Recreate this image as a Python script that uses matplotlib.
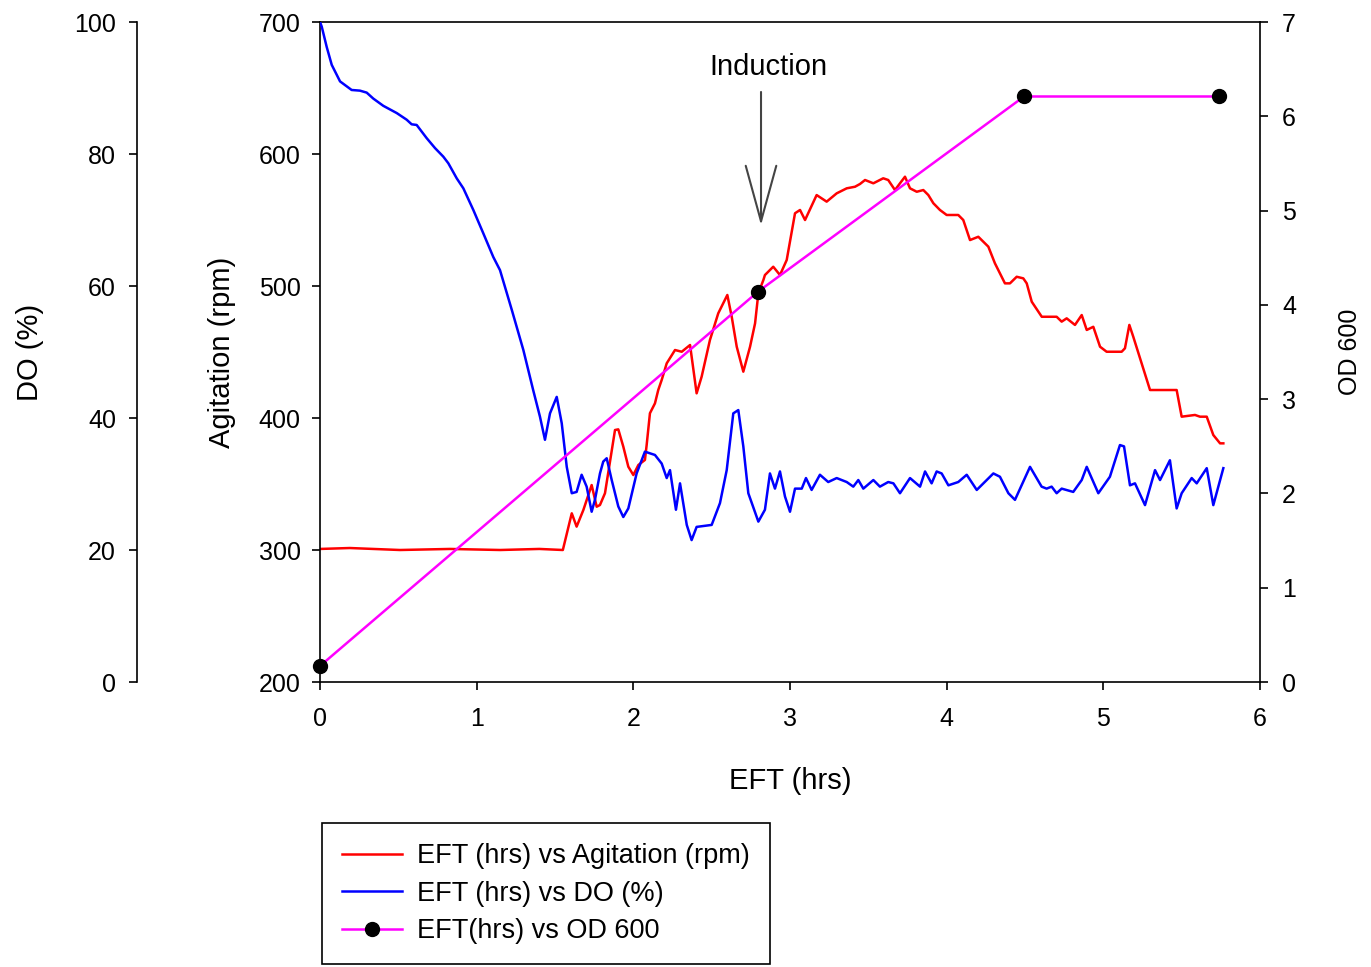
import numpy as np
import matplotlib
matplotlib.use('Agg')
import matplotlib.pyplot as plt

plt.rcParams['font.family'] = ['Liberation Sans', 'DejaVu Sans']

# Agitation (rpm) vs EFT (hrs)
agit_t = [0.0, 0.19, 0.51, 0.83, 1.15, 1.40, 1.55, 1.607, 1.638, 1.681, 1.734, 1.766,
          1.787, 1.819, 1.851, 1.883, 1.904, 1.936, 1.968, 2.0, 2.032, 2.074, 2.085,
          2.106, 2.138, 2.159, 2.181, 2.213, 2.266, 2.309, 2.362, 2.404, 2.436, 2.489,
          2.542, 2.600, 2.628, 2.660, 2.702, 2.745, 2.777, 2.798, 2.830, 2.840, 2.893,
          2.936, 2.979, 3.032, 3.064, 3.096, 3.170, 3.234, 3.298, 3.362, 3.415, 3.447,
          3.479, 3.532, 3.595, 3.627, 3.670, 3.702, 3.734, 3.766, 3.809, 3.851, 3.883,
          3.915, 3.957, 4.0, 4.074, 4.106, 4.149, 4.202, 4.266, 4.308, 4.372, 4.404,
          4.447, 4.489, 4.511, 4.543, 4.607, 4.702, 4.734, 4.766, 4.819, 4.862, 4.894,
          4.936, 4.979, 5.021, 5.117, 5.138, 5.166, 5.191, 5.298, 5.468, 5.500, 5.585,
          5.617, 5.660, 5.702, 5.745, 5.766]
agit_rpm = [300.8, 301.5, 300.0, 300.8, 300.0, 300.8, 300.0, 327.8, 317.7, 330.3, 349.2, 332.8,
            334.1, 343.0, 366.9, 390.9, 391.4, 378.3, 363.1, 356.8, 364.4, 368.2, 379.5,
            403.6, 411.1, 421.2, 428.8, 441.4, 451.5, 450.2, 455.3, 418.7, 431.3, 459.1,
            479.3, 493.2, 476.7, 454.0, 435.1, 454.0, 471.7, 494.5, 504.5, 508.3, 514.6,
            508.3, 519.7, 555.1, 557.6, 550.0, 568.9, 563.9, 570.2, 574.0, 575.2, 577.3,
            580.3, 577.8, 581.6, 580.3, 572.7, 577.8, 582.8, 574.0, 571.4, 572.7, 568.9,
            562.7, 557.6, 553.8, 553.8, 550.0, 534.8, 537.3, 529.8, 517.2, 502.0, 502.0,
            507.0, 505.8, 502.0, 488.1, 476.7, 476.7, 473.0, 475.5, 470.5, 478.0, 466.7,
            469.1, 454.0, 450.2, 450.2, 452.8, 470.5, 461.6, 421.2, 421.2, 401.0, 402.3,
            401.0, 401.0, 387.1, 380.8, 380.8]

# DO (%) vs EFT (hrs)
do_t = [0.0, 0.011, 0.043, 0.075, 0.128, 0.202, 0.255, 0.298, 0.340, 0.404, 0.490, 0.553,
        0.585, 0.617, 0.681, 0.734, 0.787, 0.819, 0.873, 0.915, 0.979, 1.042, 1.106, 1.149,
        1.224, 1.298, 1.361, 1.404, 1.436, 1.468, 1.511, 1.543, 1.575, 1.607, 1.638, 1.670,
        1.702, 1.734, 1.755, 1.787, 1.808, 1.830, 1.862, 1.904, 1.936, 1.968, 2.021, 2.074,
        2.138, 2.181, 2.213, 2.234, 2.272, 2.298, 2.341, 2.372, 2.404, 2.500, 2.553, 2.596,
        2.638, 2.670, 2.702, 2.734, 2.798, 2.840, 2.872, 2.904, 2.936, 2.968, 3.0, 3.032,
        3.075, 3.102, 3.138, 3.191, 3.244, 3.298, 3.362, 3.404, 3.436, 3.468, 3.532, 3.574,
        3.627, 3.660, 3.702, 3.766, 3.830, 3.862, 3.904, 3.936, 3.968, 4.011, 4.074, 4.128,
        4.192, 4.298, 4.340, 4.394, 4.436, 4.532, 4.606, 4.638, 4.670, 4.702, 4.734, 4.808,
        4.862, 4.894, 4.968, 5.042, 5.106, 5.132, 5.170, 5.202, 5.266, 5.330, 5.362, 5.425,
        5.468, 5.500, 5.564, 5.596, 5.660, 5.702, 5.766]
do_pct = [100.0, 99.3, 96.2, 93.5, 91.0, 89.7, 89.6, 89.3, 88.4, 87.3, 86.2, 85.2,
          84.5, 84.4, 82.4, 80.9, 79.6, 78.6, 76.3, 74.8, 71.5, 68.0, 64.4, 62.4,
          56.4, 50.3, 44.2, 40.2, 36.7, 40.7, 43.2, 39.2, 32.6, 28.6, 28.8, 31.4,
          29.6, 25.8, 27.6, 31.6, 33.4, 33.9, 30.6, 26.6, 25.0, 26.3, 31.6, 34.9,
          34.4, 33.1, 30.9, 32.1, 26.1, 30.1, 23.8, 21.5, 23.5, 23.8, 27.1, 32.1,
          40.7, 41.2, 35.7, 28.6, 24.3, 26.1, 31.6, 29.3, 31.9, 28.1, 25.8, 29.3,
          29.3, 30.9, 29.1, 31.4, 30.3, 30.9, 30.3, 29.6, 30.6, 29.3, 30.6, 29.6,
          30.3, 30.1, 28.6, 30.9, 29.6, 31.9, 30.1, 31.9, 31.6, 29.8, 30.3, 31.4,
          29.1, 31.6, 31.1, 28.6, 27.6, 32.6, 29.6, 29.3, 29.6, 28.6, 29.3, 28.8,
          30.6, 32.6, 28.6, 31.1, 35.9, 35.7, 29.8, 30.1, 26.8, 32.1, 30.6, 33.6,
          26.3, 28.6, 30.9, 30.1, 32.4, 26.8, 32.4]

# OD 600 vs EFT (hrs)
od_t = [0.0, 2.796, 4.494, 5.738]
od_val = [0.17, 4.14, 6.21, 6.21]

fig = plt.figure(figsize=(13.71, 9.67), dpi=100)
ax = fig.add_axes([320/1371, 1 - 682/967, 940/1371, 660/967])
ax_do = ax.twinx()
ax_od = ax.twinx()

tick_fs = 18
label_fs = 21

l1, = ax.plot(agit_t, agit_rpm, color='#ff0000', lw=1.8, label='EFT (hrs) vs Agitation (rpm)')
l2, = ax_do.plot(do_t, do_pct, color='#0000ff', lw=1.8, label='EFT (hrs) vs DO (%)')
l3, = ax_od.plot(od_t, od_val, color='#ff00ff', lw=1.8, marker='o', ms=10,
                 mfc='black', mec='black', clip_on=False, label='EFT(hrs) vs OD 600')

ax.set_xlim(0, 6)
ax.set_xticks(range(0, 7))
ax.set_ylim(200, 700)
ax.set_yticks(range(200, 701, 100))
ax_do.set_ylim(0, 100)
ax_do.set_yticks(range(0, 101, 20))
ax_od.set_ylim(0, 7)
ax_od.set_yticks(range(0, 8))

# spines
ax.spines['right'].set_visible(False)
for s in ['top', 'bottom', 'right']:
    ax_do.spines[s].set_visible(False)
ax_do.spines['left'].set_position(('outward', 131.8))
ax_do.yaxis.set_ticks_position('left')
ax_do.yaxis.set_label_position('left')
for s in ['top', 'bottom', 'left']:
    ax_od.spines[s].set_visible(False)
for a in [ax, ax_do, ax_od]:
    for s in a.spines.values():
        s.set_linewidth(1.2)
    a.tick_params(direction='out', length=6, width=1.2, labelsize=tick_fs)
ax.tick_params(axis='x', pad=12)
ax.tick_params(axis='y', pad=8)
ax_do.tick_params(axis='y', pad=9)
ax_od.tick_params(axis='y', pad=10)

ax.set_xlabel('EFT (hrs)', fontsize=label_fs, labelpad=26)
ax.set_ylabel('Agitation (rpm)', fontsize=label_fs, labelpad=16)
ax_do.set_ylabel('DO (%)', fontsize=label_fs, labelpad=22)
ax_od.set_ylabel('OD 600', fontsize=18, rotation=90, labelpad=30)

# induction marker
ax.text(2.86, 666, 'Induction', fontsize=21, ha='center', va='center')
ax.annotate('', xy=(2.815, 546), xytext=(2.815, 647),
            arrowprops=dict(arrowstyle='->,head_length=2.0,head_width=0.55',
                            mutation_scale=20, color='#444444', lw=1.5,
                            shrinkA=0, shrinkB=0))

leg = fig.legend(handles=[l1, l2, l3], loc='upper left',
                 bbox_to_anchor=(322/1371, 1 - 823/967), fontsize=19.5,
                 frameon=True, fancybox=False, framealpha=1, edgecolor='black',
                 handlelength=2.2, handletextpad=0.55, borderpad=0.75,
                 labelspacing=0.42, borderaxespad=0)
leg.get_frame().set_linewidth(1.2)

fig.savefig('out.png', dpi=100)
